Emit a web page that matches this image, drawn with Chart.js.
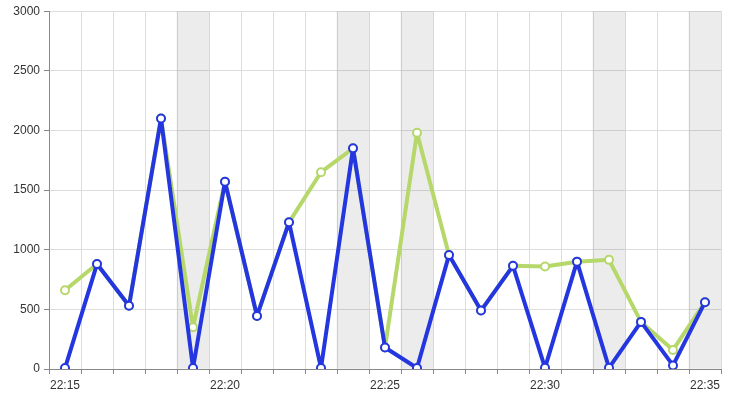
<!DOCTYPE html>
<html>
<head>
<meta charset="utf-8">
<script src="https://cdn.jsdelivr.net/npm/chart.js@4/dist/chart.umd.min.js"></script>
<style>
  html, body { margin: 0; padding: 0; background: #fff; }
  #wrap { width: 732px; height: 405px; }
</style>
</head>
<body>
<div id="wrap"><canvas id="myChart" width="732" height="405"></canvas></div>
<script>
var minutes = ["22:15","22:16","22:17","22:18","22:19","22:20","22:21","22:22","22:23","22:24",
               "22:25","22:26","22:27","22:28","22:29","22:30","22:31","22:32","22:33","22:34","22:35"];
var greenValues = [660, 880, 530, 2100, 350, 1570, 445, 1230, 1650, 1850,
                   180, 1980, 955, 490, 865, 860, 900, 915, 395, 160, 560];
var blueValues = [8, 880, 530, 2100, 8, 1570, 445, 1230, 8, 1850,
                  180, 8, 955, 490, 865, 10, 900, 10, 395, 30, 560];
var shadedMinutes = ["22:19", "22:24", "22:26", "22:32", "22:35"];
var yTicks = [0, 500, 1000, 1500, 2000, 2500, 3000];

var yMax = yTicks[yTicks.length - 1];
var shadeData = minutes.map(function(m){
  return shadedMinutes.indexOf(m) >= 0 ? yMax : null;
});

window.onload = function(){
  var ctx = document.getElementById("myChart");
  var myChart = new Chart(ctx, {
    type: 'line',
    data: {
      labels: minutes,
      datasets: [{
        type: 'bar',
        data: shadeData,
        backgroundColor: 'rgba(0, 0, 0, 0.075)',
        barPercentage: 1,
        categoryPercentage: 1,
        order: 3
      }, {
        data: greenValues,
        borderColor: '#b6d86a',
        borderWidth: 4,
        borderJoinStyle: 'round',
        pointRadius: 4,
        pointBorderWidth: 2,
        pointBackgroundColor: '#fff',
        pointBorderColor: '#b6d86a',
        tension: 0,
        order: 2
      }, {
        data: blueValues,
        borderColor: '#2436e0',
        borderWidth: 4,
        borderJoinStyle: 'round',
        pointRadius: 4,
        pointBorderWidth: 2,
        pointBackgroundColor: '#fff',
        pointBorderColor: '#2436e0',
        tension: 0,
        order: 1
      }]
    },
    options: {
      responsive: false,
      animation: false,
      layout: { padding: { top: 11, right: 11, left: 0, bottom: 0 } },
      plugins: {
        legend: { display: false },
        tooltip: { enabled: false }
      },
      scales: {
        x: {
          offset: true,
          grid: { offset: true, color: '#dddddd', tickLength: 5, tickColor: '#888' },
          border: { color: '#888' },
          ticks: {
            autoSkip: false,
            maxRotation: 0,
            padding: 4,
            color: '#333',
            font: { family: 'Liberation Sans', size: 12 },
            callback: function(v, i){ return i % 5 === 0 ? minutes[i] : ''; }
          },
          afterFit: function(s){ s.height = 36; }
        },
        y: {
          min: 0,
          max: yMax,
          afterBuildTicks: function(s){
            s.ticks = yTicks.map(function(v){ return { value: v }; });
          },
          grid: { color: '#dddddd', tickLength: 5, tickColor: '#888' },
          border: { color: '#888' },
          ticks: {
            padding: 4,
            color: '#333',
            font: { family: 'Liberation Sans', size: 12 },
            callback: function(v){ return String(v); }
          },
          afterFit: function(s){ s.width = 49; }
        }
      }
    }
  });
};
</script>
</body>
</html>
